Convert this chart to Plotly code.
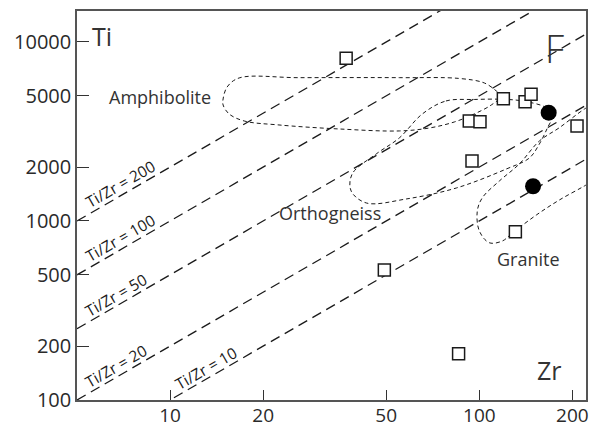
import plotly.graph_objects as go
import math

# ---- data ----
sq_zr = [37.1, 119.6, 140.6, 147.0, 92.8, 100.5, 94.7, 207.0, 130.8, 49.3, 85.7]
sq_ti = [8110, 4822, 4639, 5105, 3620, 3587, 2163, 3394, 871, 532, 181.5]
ci_zr = [167.6, 149.2]
ci_ti = [4027, 1563]

ratios = [200, 100, 50, 20, 10]
ratio_line_zr = [5, 260]
ratio_label_zr = [6.89, 6.89, 6.68, 6.68, 13.08]
ratio_label_ti = [1609, 804, 386, 155, 151]

amph_zr = [14.84, 15.29, 16.72, 26.15, 55.1, 86.2, 103.8, 113.5, 117.8, 109.3, 96.3, 83.0, 68.9, 55.1, 35.2, 22.5, 17.36, 15.52, 14.84, 14.84]
amph_ti = [4804, 5605, 6294, 6318, 6318, 6254, 5902, 5324, 4993, 4446, 3961, 3573, 3307, 3184, 3266, 3439, 3620, 3961, 4446, 4804]

orth_zr = [65.4, 78.0, 96.3, 118.7, 137.8, 164.4, 172.3, 166.0, 156.4, 145.2, 122.3, 84.3, 58.0, 43.1, 38.5, 38.8, 46.4, 55.1, 65.4]
orth_ti = [3961, 4682, 4773, 4785, 4682, 4295, 3861, 3307, 2693, 2249, 1952, 1529, 1327, 1261, 1471, 1830, 2368, 2909, 3961]

gran_zr = [244.5, 218.7, 181.5, 156.4, 134.7, 116.1, 102.3, 98.5, 100.0, 107.7, 118.7, 127.9, 152.9, 181.5, 218.7, 244.5]
gran_ti = [4700, 4220, 3320, 2798, 2082, 1673, 1349, 1137, 880, 756, 773, 857, 1080, 1310, 1569, 1761]

field_names = ["Amphibolite", "Orthogneiss", "Granite"]
field_label_zr = [9.28, 32.8, 144]
field_label_ti = [4900, 1110, 610]

x_ticks = [10, 20, 50, 100, 200]
y_ticks = [100, 200, 500, 1000, 2000, 5000, 10000]

INK = "#1a1a1a"
FONT = "Open Sans"

fig = go.Figure()

for r in ratios:
    fig.add_trace(go.Scatter(
        x=ratio_line_zr, y=[r * z for z in ratio_line_zr], mode="lines",
        line=dict(color=INK, width=1.3, dash="10px,6px"),
        hoverinfo="skip", showlegend=False))

for xs, ys in [(amph_zr, amph_ti), (orth_zr, orth_ti), (gran_zr, gran_ti)]:
    fig.add_trace(go.Scatter(
        x=xs, y=ys, mode="lines",
        line=dict(color=INK, width=1, dash="4px,3px", shape="spline", smoothing=1.0),
        hoverinfo="skip", showlegend=False))

fig.add_trace(go.Scatter(
    x=sq_zr, y=sq_ti, mode="markers",
    marker=dict(symbol="square", size=12, color="white", line=dict(color=INK, width=1.5)),
    showlegend=False, cliponaxis=False))
fig.add_trace(go.Scatter(
    x=ci_zr, y=ci_ti, mode="markers",
    marker=dict(symbol="circle", size=16, color="black"),
    showlegend=False))

ann = []
for r, lx, ly in zip(ratios, ratio_label_zr, ratio_label_ti):
    ann.append(dict(x=math.log10(lx), y=math.log10(ly), text=f"Ti/Zr = {r}",
                    showarrow=False, textangle=-30,
                    font=dict(family=FONT, size=15.5, color=INK)))
for name, lx, ly in zip(field_names, field_label_zr, field_label_ti):
    ann.append(dict(x=math.log10(lx), y=math.log10(ly), text=name, showarrow=False,
                    font=dict(family=FONT, size=18, color="#333")))
ann.append(dict(x=math.log10(6.03), y=math.log10(10804), text="Ti", showarrow=False,
                font=dict(family=FONT, size=25, color="#333")))
ann.append(dict(x=math.log10(169), y=math.log10(147.2), text="Zr", showarrow=False,
                font=dict(family=FONT, size=25, color="#333")))
ann.append(dict(x=math.log10(175.5), y=math.log10(9300), text="F", showarrow=False,
                font=dict(family=FONT, size=38, color="#333", weight=300)))


def axis_style(ticklen, size):
    return dict(showline=True, linecolor="#555", linewidth=1.5, mirror=True,
                ticks="inside", tickcolor="#333", tickwidth=1, ticklen=ticklen,
                showgrid=False, zeroline=False, automargin=False,
                tickfont=dict(family=FONT, size=size, color="#2a2a2a"))


fig.update_layout(
    width=595, height=430,
    margin=dict(l=77, r=9, t=11, b=30, autoexpand=False),
    paper_bgcolor="white", plot_bgcolor="white",
    xaxis=dict(type="log", range=[math.log10(5), 2.345], tickvals=x_ticks,
               ticktext=[str(v) for v in x_ticks], ticklabelstandoff=-3,
               **axis_style(10, 19)),
    yaxis=dict(type="log", range=[2, 4.173], tickvals=y_ticks,
               ticktext=[str(v) for v in y_ticks], **axis_style(12, 20)),
    annotations=ann,
)

fig.write_html("out.html", config={"displayModeBar": False},
               post_script="document.body.style.margin='0';document.body.style.overflow='hidden';")
